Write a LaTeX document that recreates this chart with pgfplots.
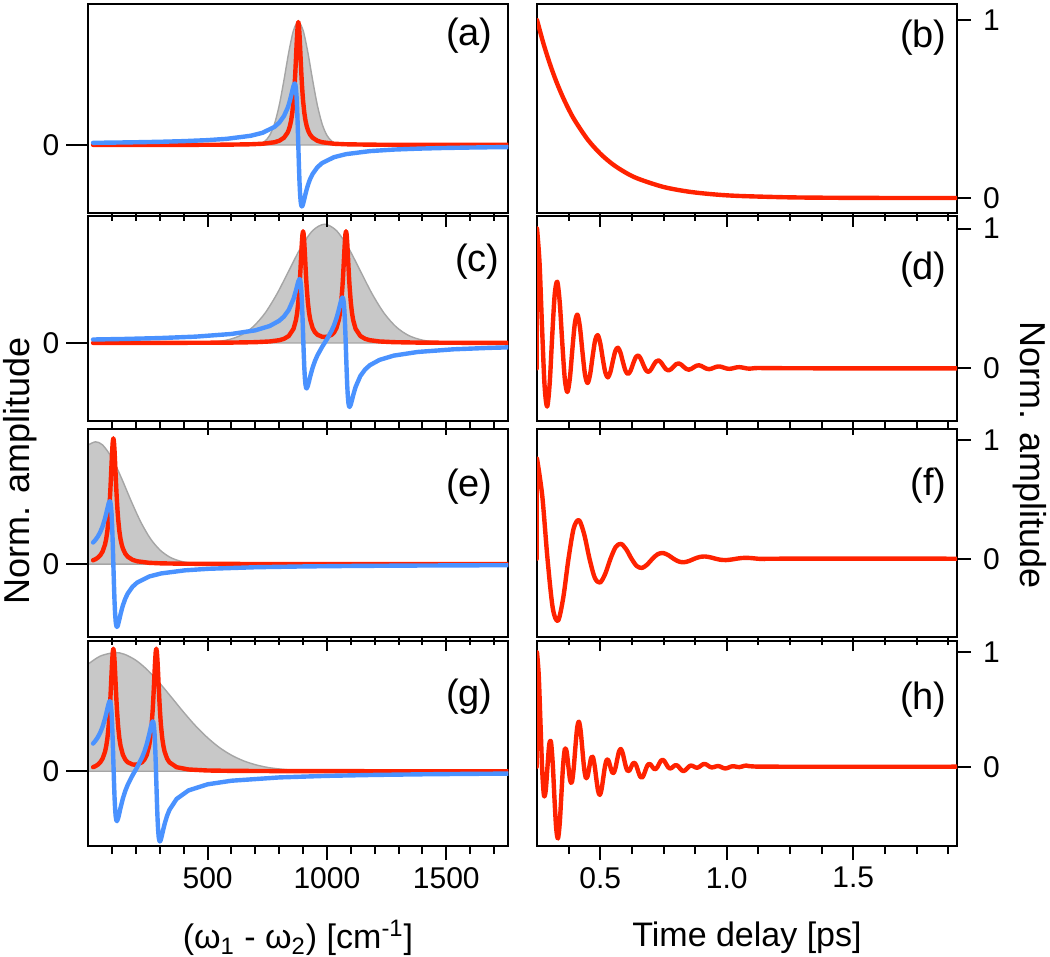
\documentclass[border=0pt]{standalone}
\usepackage{pgfplots}
\pgfplotsset{compat=1.18}
\usepackage{fontspec}
\setmainfont{Liberation Sans}
\definecolor{cred}{RGB}{255,34,0}
\definecolor{cblue}{RGB}{74,146,255}
\definecolor{gfill}{RGB}{200,200,200}
\definecolor{gedge}{RGB}{165,165,165}
\pgfplotsset{
  base/.style={scale only axis, width=210pt, anchor=north west,
    axis line style={line width=1pt, black},
    every tick/.style={line width=1pt, black},
    tick align=outside, major tick length=7pt, minor tick length=4pt,
    xtick pos=left, xticklabel pos=left,
    tick label style={font=\fontsize{15}{15}\selectfont},
    clip=true},
  spec/.style={base, xmin=0, xmax=1760,
    xtick={500,1000,1500}, minor xtick={100,200,...,1700}, xticklabels={},
    ytick=\empty},
  ytk/.style={scale only axis, width=210pt, anchor=north west, xmin=0, xmax=1,
    hide x axis, axis y line*=left, y axis line style={line width=1pt, black},
    ytick={0}, yticklabels={0}, major tick length=11pt, tick align=outside,
    every tick/.style={line width=1pt, black},
    tick label style={font=\fontsize{15}{15}\selectfont}},
  time/.style={base, xmin=0.25, xmax=1.91,
    xtick={0.5,1,1.5}, minor xtick={0.375,0.625,0.75,0.875,1.125,1.25,1.375,1.625,1.75,1.875}, xticklabels={},
    ytick={0,1}, yticklabels={0,1}, ytick pos=right, yticklabel pos=right,
    yticklabel style={xshift=2.5pt}},
  rl/.style={cred, line width=2.2pt, line join=round, line cap=round},
  bl/.style={cblue, line width=2.2pt, line join=round, line cap=round},
  gr/.style={fill=gfill, draw=gedge, line width=0.7pt},
}
\begin{document}
\begin{tikzpicture}
\useasboundingbox (0,0) rectangle (525pt,-478.5pt);
% ---------------- row 4 ----------------
\begin{axis}[spec, at={(44.15pt,-320.5pt)}, height=102.5pt, ymin=-0.614, ymax=1.07, xticklabels={500,1000,1500}]
\addplot[gr, smooth] coordinates {(0,0.881) (50,0.946) (110,0.975) (150,0.962) (200,0.911) (250,0.828) (300,0.722) (350,0.604) (400,0.484) (450,0.372) (500,0.275) (550,0.194) (600,0.132) (650,0.086) (700,0.054) (750,0.032) (800,0.019) (850,0.010) (900,0.005) (950,0.003) (1000,0)} \closedcycle;
\addplot[rl] coordinates {(20,0.0334) (30,0.0419) (40,0.0543) (50,0.0733) (60,0.1044) (70,0.16) (75,0.2051) (80,0.27) (85,0.3656) (87.5,0.4292) (90,0.5059) (92.5,0.5962) (95,0.6985) (97.5,0.8064) (100,0.9065) (102.5,0.9797) (105,1.0069) (107.5,0.9801) (110,0.9073) (112.5,0.8075) (115,0.70) (117.5,0.5982) (120,0.5082) (125,0.3687) (130,0.274) (135,0.2099) (145,0.1347) (155,0.0957) (165,0.0742) (185,0.056) (195,0.054) (205,0.056) (225,0.0742) (235,0.0957) (245,0.1347) (255,0.2099) (260,0.274) (265,0.3687) (270,0.5082) (272.5,0.5982) (275,0.70) (277.5,0.8075) (280,0.9073) (282.5,0.9801) (285,1.0069) (287.5,0.9797) (290,0.9065) (292.5,0.8064) (295,0.6985) (297.5,0.5962) (300,0.5059) (302.5,0.4292) (305,0.3656) (310,0.27) (315,0.2051) (320,0.16) (330,0.1044) (340,0.0733) (370,0.0334) (420,0.0145) (500,0.0062) (600,0.0032) (800,0.0013) (1000,0.0007) (1200,0.0004) (1400,0.0003) (1600,0.0002) (1760,0.0002)};
\addplot[bl] coordinates {(20,0.2275) (30,0.2509) (40,0.2801) (50,0.3174) (60,0.3664) (70,0.4315) (75,0.4711) (80,0.514) (85,0.5546) (87.5,0.5696) (90,0.5765) (92.5,0.5693) (95,0.54) (97.5,0.4795) (100,0.3806) (102.5,0.2436) (105,0.0828) (107.5,-0.0781) (110,-0.2149) (112.5,-0.3137) (115,-0.3739) (117.5,-0.403) (120,-0.4098) (125,-0.3871) (130,-0.3453) (135,-0.301) (145,-0.2229) (155,-0.1613) (165,-0.1122) (185,-0.0344) (195,0) (205,0.0344) (225,0.1122) (235,0.1613) (245,0.2229) (255,0.301) (260,0.3453) (265,0.3871) (270,0.4098) (272.5,0.403) (275,0.3739) (277.5,0.3137) (280,0.2149) (282.5,0.0781) (285,-0.0828) (287.5,-0.2436) (290,-0.3806) (292.5,-0.4795) (295,-0.54) (297.5,-0.5693) (300,-0.5765) (302.5,-0.5696) (305,-0.5546) (310,-0.514) (315,-0.4711) (320,-0.4315) (330,-0.3664) (340,-0.3174) (370,-0.2275) (420,-0.1573) (500,-0.1073) (600,-0.0778) (800,-0.0507) (1000,-0.0378) (1200,-0.0301) (1400,-0.025) (1600,-0.0214) (1760,-0.0192)};
\end{axis}
\begin{axis}[ytk, at={(44.15pt,-320.5pt)}, height=102.5pt, ymin=-0.614, ymax=1.07]
\end{axis}
\begin{axis}[time, at={(268.5pt,-320.5pt)}, height=102.5pt, ymin=-0.694, ymax=1.1, xticklabels={0.5,1.0,1.5}]
\addplot[rl] coordinates {(0.25,0) (0.25,1)};
\addplot[rl, smooth] coordinates {(0.25,1) (0.2569,0.7972) (0.2638,0.3766) (0.2707,-0.0378) (0.2776,-0.2526) (0.2845,-0.2085) (0.2914,0) (0.2983,0.193) (0.3052,0.2163) (0.3121,0.03) (0.319,-0.2761) (0.3259,-0.5408) (0.3328,-0.6277) (0.3397,-0.5004) (0.3466,-0.2364) (0.3535,0.0237) (0.3604,0.1585) (0.3673,0.1309) (0.3742,0) (0.3811,-0.1211) (0.388,-0.1357) (0.3949,-0.0188) (0.4018,0.1733) (0.4087,0.3394)
(0.4156,0.3938) (0.4225,0.3139) (0.4294,0.1483) (0.4363,-0.0149) (0.4432,-0.0995) (0.4501,-0.0821) (0.457,0) (0.4639,0.076) (0.4708,0.0852) (0.4777,0.0118) (0.4846,-0.1087) (0.4915,-0.213) (0.4984,-0.2472) (0.5053,-0.1971) (0.5122,-0.0931) (0.5191,0.0093) (0.526,0.0624) (0.5329,0.0515) (0.5398,0) (0.5467,-0.0477) (0.5536,-0.0534) (0.5605,-0.0074) (0.5674,0.0682) (0.5743,0.1337)
(0.5812,0.1551) (0.5881,0.1236) (0.595,0.0584) (0.6019,-0.0059) (0.6088,-0.0392) (0.6157,-0.0323) (0.6226,0) (0.6295,0.0299) (0.6364,0.0335) (0.6433,0.0047) (0.6502,-0.0428) (0.6571,-0.0839) (0.664,-0.0974) (0.6709,-0.0776) (0.6778,-0.0367) (0.6847,0.0037) (0.6916,0.0246) (0.6985,0.0203) (0.7054,0) (0.7123,-0.0188) (0.7192,-0.021) (0.7261,-0.0029) (0.733,0.0269) (0.7399,0.0526)
(0.7468,0.0611) (0.7537,0.0487) (0.7606,0.023) (0.7675,-0.0023) (0.7744,-0.0154) (0.7813,-0.0127) (0.7882,0) (0.7951,0.0118) (0.802,0.0132) (0.8089,0.0018) (0.8158,-0.0169) (0.8227,-0.033) (0.8296,-0.0384) (0.8365,-0.0306) (0.8434,-0.0144) (0.8503,0.0014) (0.8572,0.0097) (0.8641,0.008) (0.871,0) (0.8779,-0.0074) (0.8848,-0.0083) (0.8917,-0.0011) (0.8986,0.0106) (0.9055,0.0207)
(0.9124,0.0241) (0.9193,0.0192) (0.9262,0.0091) (0.9331,-0.0009) (0.94,-0.0061) (0.9469,-0.005) (0.9538,0) (0.9607,0.0047) (0.9676,0.0052) (0.9745,0.0007) (0.9814,-0.0067) (0.9883,-0.013) (0.9952,-0.0151) (1.0021,-0.0121) (1.009,-0.0057) (1.0159,0.0006) (1.0228,0.0038) (1.0297,0.0032) (1.0366,0) (1.0435,-0.0029) (1.0504,-0.0033) (1.0573,-0.0005) (1.0642,0.0042) (1.0711,0.0082) (1.078,0.0095) (1.1,0.003) (1.2,0) (1.91,0)};
\end{axis}
% ---------------- row 3 ----------------
\begin{axis}[spec, at={(44.15pt,-214.5pt)}, height=104pt, ymin=-0.58, ymax=1.074]
\addplot[gr, smooth] coordinates {(0,0.947) (30,0.972) (60,0.947) (100,0.841) (140,0.679) (180,0.4996) (220,0.334) (260,0.203) (300,0.1125) (340,0.0567) (380,0.026) (420,0.0108) (460,0.0041) (500,0)} \closedcycle;
\addplot[rl] coordinates {(20,0.0302) (30,0.0385) (40,0.0506) (50,0.0692) (60,0.1) (70,0.1552) (75,0.2) (80,0.2647) (85,0.36) (87.5,0.4235) (90,0.5) (92.5,0.5902) (95,0.6923) (97.5,0.8) (100,0.9) (102.5,0.973) (105,1) (107.5,0.973) (110,0.9) (112.5,0.8) (115,0.6923) (117.5,0.5902) (120,0.5) (122.5,0.4235) (125,0.36) (130,0.2647) (135,0.2) (140,0.1552) (145,0.1233) (155,0.0826) (165,0.0588) (185,0.034) (205,0.022) (255,0.0099) (305,0.0056) (405,0.0025) (505,0.0014) (705,0.0006) (905,0.0004) (1105,0.0002) (1305,0.0002) (1505,0.0001) (1760,0.0001)};
\addplot[bl] coordinates {(20,0.1711) (30,0.1923) (40,0.2191) (50,0.2538) (60,0.3) (70,0.3621) (75,0.4) (80,0.4412) (85,0.48) (87.5,0.4941) (90,0.5) (92.5,0.4918) (95,0.4615) (97.5,0.4) (100,0.3) (102.5,0.162) (105,0) (107.5,-0.162) (110,-0.3) (112.5,-0.4) (115,-0.4615) (117.5,-0.4918) (120,-0.5) (122.5,-0.4941) (125,-0.48) (130,-0.4412) (135,-0.4) (140,-0.3621) (145,-0.3288) (155,-0.2752) (165,-0.2353) (185,-0.1811) (205,-0.1467) (255,-0.099) (305,-0.0746) (405,-0.0499) (505,-0.0374) (705,-0.025) (905,-0.0188) (1105,-0.015) (1305,-0.0125) (1505,-0.0107) (1760,-0.0091)};
\end{axis}
\begin{axis}[ytk, at={(44.15pt,-214.5pt)}, height=104pt, ymin=-0.58, ymax=1.074]
\end{axis}
\begin{axis}[time, at={(268.5pt,-214.5pt)}, height=104pt, ymin=-0.658, ymax=1.09]
\addplot[rl] coordinates {(0.25,0) (0.25,0.84)};
\addplot[rl, smooth] coordinates {(0.25,0.84) (0.2708,0.5272) (0.2915,0) (0.3123,-0.4154) (0.333,-0.5214) (0.3538,-0.3272) (0.3745,0) (0.3953,0.2578) (0.416,0.3236) (0.4368,0.2031) (0.4575,0) (0.4783,-0.16) (0.499,-0.2008) (0.5198,-0.1261) (0.5405,0) (0.5613,0.0993) (0.582,0.1247) (0.6028,0.0782) (0.6235,0) (0.6443,-0.0617) (0.665,-0.0774) (0.6858,-0.0486) (0.7065,0) (0.7273,0.0382) (0.748,0.048) (0.7688,0.0302) (0.7895,0) (0.8103,-0.0238) (0.831,-0.0298) (0.8518,-0.0187) (0.8725,0) (0.8933,0.0147) (0.914,0.0185) (0.9348,0.0117) (0.9555,0) (0.9763,-0.0092) (0.997,-0.0115) (1.0178,-0.0072) (1.0385,0) (1.0593,0.0057) (1.08,0.0071) (1.1008,0.0045) (1.1215,0) (1.15,-0.003) (1.2,0) (1.91,0)};
\end{axis}
% ---------------- row 2 ----------------
\begin{axis}[spec, at={(44.15pt,-108pt)}, height=102.5pt, ymin=-0.703, ymax=1.144]
\addplot[gr, smooth] coordinates {(440,0) (490,0.004) (540,0.012) (590,0.031) (640,0.070) (690,0.145) (740,0.267) (790,0.44) (840,0.649) (890,0.857) (940,1.012) (990,1.07) (1040,1.012) (1090,0.857) (1140,0.649) (1190,0.44) (1240,0.267) (1290,0.145) (1340,0.070) (1390,0.031) (1440,0.012) (1490,0.004) (1540,0)} \closedcycle;
\addplot[rl] coordinates {(20,0.0005) (150,0.0007) (300,0.001) (450,0.0017) (600,0.0035) (700,0.0072) (760,0.0136) (800,0.0249) (820,0.0373) (840,0.0627) (860,0.1279) (870,0.2051) (875,0.27) (880,0.3656) (885,0.5059) (887.5,0.5962) (890,0.6985) (892.5,0.8064) (895,0.9065) (897.5,0.9797) (900,1.0069) (902.5,0.9801) (905,0.9073) (907.5,0.8075) (910,0.70) (912.5,0.5982) (915,0.5082) (920,0.3687) (925,0.274) (930,0.2099) (940,0.1347) (950,0.0957) (960,0.0742) (980,0.056) (990,0.054) (1000,0.056) (1020,0.0742) (1030,0.0957) (1040,0.1347) (1050,0.2099) (1055,0.274) (1060,0.3687) (1065,0.5082) (1067.5,0.5982) (1070,0.70) (1072.5,0.8075) (1075,0.9073) (1077.5,0.9801) (1080,1.0069) (1082.5,0.9797) (1085,0.9065) (1087.5,0.8064) (1090,0.6985) (1092.5,0.5962) (1095,0.5059) (1100,0.3656) (1105,0.27) (1110,0.2051) (1120,0.1279) (1140,0.0627) (1160,0.0373) (1180,0.0249) (1220,0.0136) (1280,0.0072) (1380,0.0035) (1530,0.0017) (1680,0.001) (1760,0.0008)};
\addplot[bl] coordinates {(20,0.0312) (150,0.0361) (300,0.0442) (450,0.0571) (600,0.0811) (700,0.114) (760,0.1527) (800,0.2001) (820,0.2386) (840,0.2976) (860,0.3967) (870,0.4711) (875,0.514) (880,0.5546) (885,0.5765) (887.5,0.5693) (890,0.54) (892.5,0.4795) (895,0.3806) (897.5,0.2436) (900,0.0828) (902.5,-0.0781) (905,-0.2149) (907.5,-0.3137) (910,-0.3739) (912.5,-0.403) (915,-0.4098) (920,-0.3871) (925,-0.3453) (930,-0.301) (940,-0.2229) (950,-0.1613) (960,-0.1122) (980,-0.0344) (990,0) (1000,0.0344) (1020,0.1122) (1030,0.1613) (1040,0.2229) (1050,0.301) (1055,0.3453) (1060,0.3871) (1065,0.4098) (1067.5,0.403) (1070,0.3739) (1072.5,0.3137) (1075,0.2149) (1077.5,0.0781) (1080,-0.0828) (1082.5,-0.2436) (1085,-0.3806) (1087.5,-0.4795) (1090,-0.54) (1092.5,-0.5693) (1095,-0.5765) (1100,-0.5546) (1105,-0.514) (1110,-0.4711) (1120,-0.3967) (1140,-0.2976) (1160,-0.2386) (1180,-0.2001) (1220,-0.1527) (1280,-0.114) (1380,-0.0811) (1530,-0.0571) (1680,-0.0442) (1760,-0.0395)};
\end{axis}
\begin{axis}[ytk, at={(44.15pt,-108pt)}, height=102.5pt, ymin=-0.703, ymax=1.144]
\end{axis}
\begin{axis}[time, at={(268.5pt,-108pt)}, height=102.5pt, ymin=-0.377, ymax=1.09]
\addplot[rl] coordinates {(0.25,0) (0.25,1)};
\addplot[rl, smooth] coordinates {(0.25,1) (0.26,0.756) (0.27,0.2892) (0.28,-0.1259) (0.29,-0.2739) (0.30,-0.1117) (0.31,0.2276) (0.32,0.528) (0.33,0.6195) (0.34,0.4683) (0.35,0.1792) (0.36,-0.078) (0.37,-0.1697) (0.38,-0.0692) (0.39,0.141) (0.40,0.3271) (0.41,0.3838) (0.42,0.2901) (0.43,0.111) (0.44,-0.0483) (0.45,-0.1051) (0.46,-0.0428) (0.47,0.0874) (0.48,0.2026) (0.49,0.2378) (0.50,0.1798) (0.51,0.0688) (0.52,-0.0299) (0.53,-0.0651) (0.54,-0.0266) (0.55,0.0541) (0.56,0.1255) (0.57,0.1473) (0.58,0.1114) (0.59,0.0426) (0.60,-0.0185) (0.61,-0.0403) (0.62,-0.0164) (0.63,0.0335) (0.64,0.0778) (0.65,0.0913) (0.66,0.069) (0.67,0.0264) (0.68,-0.0115) (0.69,-0.025) (0.70,-0.0102) (0.71,0.0208) (0.72,0.0482) (0.73,0.0566) (0.74,0.0428) (0.75,0.0164) (0.76,-0.0071) (0.77,-0.0155) (0.78,-0.0063) (0.79,0.0129) (0.80,0.0299) (0.81,0.035) (0.82,0.0265) (0.83,0.0101) (0.84,-0.0044) (0.85,-0.0096) (0.86,-0.0039) (0.87,0.008) (0.88,0.0185) (0.89,0.0217) (0.90,0.0164) (0.91,0.0063) (0.92,-0.0027) (0.93,-0.006) (0.94,-0.0024) (0.95,0.005) (0.96,0.0115) (0.97,0.0134) (0.98,0.0101) (0.99,0.0039) (1.00,-0.0017) (1.01,-0.0037) (1.02,-0.0015) (1.03,0.003) (1.04,0.0071) (1.05,0.0083) (1.06,0.0063) (1.07,0.0024) (1.08,-0.001) (1.09,-0.0023) (1.10,-0.0009) (1.12,0.002) (1.2,0.001) (1.4,0) (1.91,0)};
\end{axis}
% ---------------- row 1 ----------------
\begin{axis}[spec, at={(44.15pt,-2pt)}, height=104.5pt, ymin=-0.553, ymax=1.146]
\addplot[gr, smooth] coordinates {(660,0) (680,0.0008) (700,0.0032) (720,0.0107) (740,0.0309) (760,0.0778) (780,0.1698) (800,0.3214) (820,0.528) (840,0.753) (860,0.9315) (880,1) (900,0.9315) (920,0.753) (940,0.528) (960,0.3214) (980,0.1698) (1000,0.0778) (1020,0.0309) (1040,0.0107) (1060,0.0032) (1080,0.0008) (1100,0)} \closedcycle;
\addplot[rl] coordinates {(20,0.0003) (100,0.0004) (200,0.0005) (300,0.0007) (400,0.001) (500,0.0016) (580,0.0025) (680,0.0056) (730,0.0099) (780,0.022) (800,0.034) (820,0.0588) (835,0.1) (840,0.1233) (845,0.1552) (850,0.2) (855,0.2647) (860,0.36) (862.5,0.4235) (865,0.5) (867.5,0.5902) (870,0.6923) (872.5,0.8) (875,0.9) (877.5,0.973) (880,1) (882.5,0.973) (885,0.9) (887.5,0.8) (890,0.6923) (892.5,0.5902) (895,0.5) (897.5,0.4235) (900,0.36) (905,0.2647) (910,0.2) (915,0.1552) (920,0.1233) (925,0.1) (930,0.0826) (940,0.0588) (960,0.034) (980,0.022) (1030,0.0099) (1080,0.0056) (1180,0.0025) (1280,0.0014) (1380,0.0009) (1480,0.0006) (1580,0.0005) (1680,0.0004) (1760,0.0003)};
\addplot[bl] coordinates {(20,0.0174) (100,0.0192) (200,0.0221) (300,0.0258) (400,0.0312) (500,0.0394) (580,0.0499) (680,0.0746) (730,0.099) (780,0.1467) (800,0.1811) (820,0.2353) (835,0.3) (840,0.3288) (845,0.3621) (850,0.4) (855,0.4412) (860,0.48) (862.5,0.4941) (865,0.5) (867.5,0.4918) (870,0.4615) (872.5,0.4) (875,0.3) (877.5,0.162) (880,0) (882.5,-0.162) (885,-0.3) (887.5,-0.4) (890,-0.4615) (892.5,-0.4918) (895,-0.5) (897.5,-0.4941) (900,-0.48) (905,-0.4412) (910,-0.4) (915,-0.3621) (920,-0.3288) (925,-0.3) (930,-0.2752) (940,-0.2353) (960,-0.1811) (980,-0.1467) (1030,-0.099) (1080,-0.0746) (1180,-0.0499) (1280,-0.0374) (1380,-0.03) (1480,-0.025) (1580,-0.0214) (1680,-0.0187) (1760,-0.017)};
\end{axis}
\begin{axis}[ytk, at={(44.15pt,-2pt)}, height=104.5pt, ymin=-0.553, ymax=1.146]
\end{axis}
\begin{axis}[time, at={(268.5pt,-2pt)}, height=104.5pt, ymin=-0.084, ymax=1.09]
\addplot[rl, smooth] coordinates {(0.25,1) (0.275,0.8703) (0.3,0.7575) (0.325,0.6592) (0.35,0.5738) (0.375,0.4994) (0.4,0.4346) (0.45,0.3292) (0.5,0.2494) (0.55,0.1889) (0.6,0.1431) (0.65,0.1084) (0.75,0.0622) (0.85,0.0357) (0.95,0.0205) (1.05,0.0117) (1.25,0.0039) (1.45,0.0013) (1.65,0.0004) (1.91,0.0001)};
\end{axis}
% ---------------- labels ----------------
\begin{scope}[every node/.style={font=\fontsize{19}{19}\selectfont, inner sep=0pt}]
\node[anchor=east] at (246.5pt,-18pt) {(a)};
\node[anchor=east] at (473.5pt,-19pt) {(b)};
\node[anchor=east] at (250pt,-131pt) {(c)};
\node[anchor=east] at (473.5pt,-135pt) {(d)};
\node[anchor=east] at (246.5pt,-243.5pt) {(e)};
\node[anchor=east] at (473.5pt,-243pt) {(f)};
\node[anchor=east] at (246.5pt,-348.5pt) {(g)};
\node[anchor=east] at (473.5pt,-350pt) {(h)};
\end{scope}
\begin{scope}[every node/.style={font=\fontsize{18}{18}\selectfont, inner sep=0pt}]
\node[rotate=90] at (10pt,-235.5pt) {Norm. amplitude};
\node[rotate=-90] at (515pt,-227.5pt) {Norm. amplitude};
\end{scope}
\begin{scope}[every node/.style={font=\fontsize{17}{17}\selectfont, inner sep=0pt}]
\node at (149pt,-469pt) {(ω\textsubscript{1} - ω\textsubscript{2}) [cm\textsuperscript{-1}]};
\node at (373.5pt,-469pt) {Time delay [ps]};
\end{scope}
\end{tikzpicture}
\end{document}
